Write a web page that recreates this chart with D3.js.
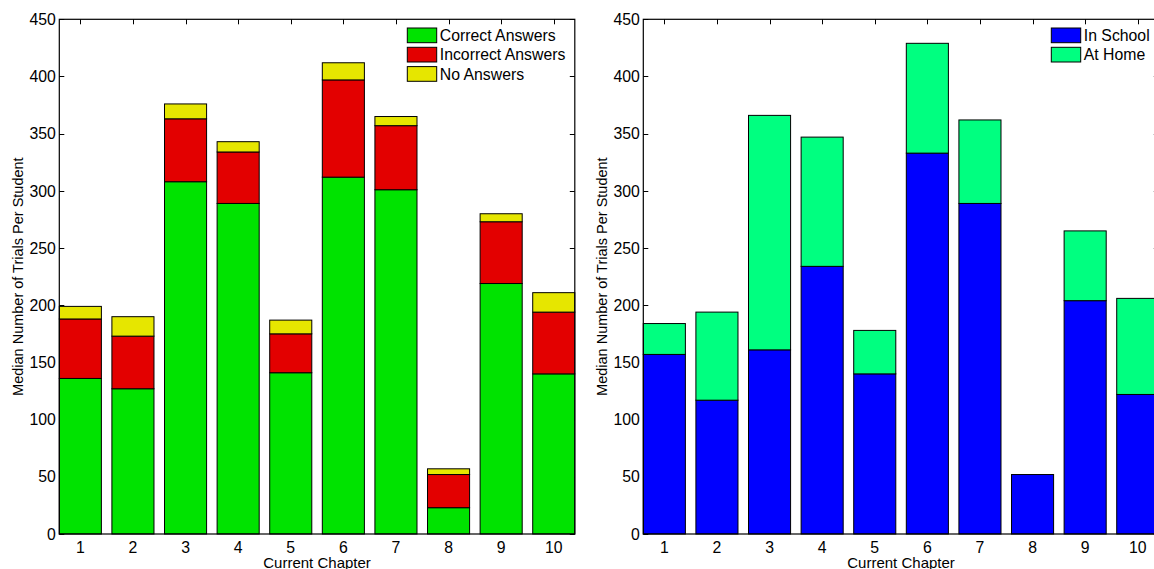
<!DOCTYPE html>
<html>
<head>
<meta charset="utf-8">
<script src="https://cdn.jsdelivr.net/npm/d3@7"></script>
<style>
  html, body { margin: 0; padding: 0; background: #fff; overflow: hidden; }
  svg { display: block; font-family: "Liberation Sans", Arial, Helvetica, sans-serif; }
</style>
</head>
<body>
<svg id="chart" width="1154" height="569"></svg>
<script>
// ---- Data ----
const chapters = ["1", "2", "3", "4", "5", "6", "7", "8", "9", "10"];
const yTickValues = [0, 50, 100, 150, 200, 250, 300, 350, 400, 450];

// Left panel: answer types
const answerSeries = ["Correct Answers", "Incorrect Answers", "No Answers"];
const correctAnswers   = [136, 127, 308, 289, 141, 312, 301, 23, 219, 140];
const incorrectAnswers = [52, 46, 55, 45, 34, 85, 56, 29, 54, 54];
const noAnswers        = [11, 17, 13, 9, 12, 15, 8, 5, 7, 17];
const answerColors = ["#00e300", "#e30000", "#e6e600"];

// Right panel: location
const locationSeries = ["In School", "At Home"];
const inSchool = [157, 117, 161, 234, 140, 333, 289, 52, 204, 122];
const atHome   = [27, 77, 205, 113, 38, 96, 73, 0, 61, 84];
const locationColors = ["#0000ff", "#00ff80"];

const xLabel = "Current Chapter";
const yLabel = "Median Number of Trials Per Student";

// ---- Drawing ----
const svg = d3.select("#chart");
const plotTop = 19.3, plotBottom = 534, plotWidth = 515.5;
const fontSize = 15.8;

function drawPanel(left, seriesNames, seriesArrays, colors, legendX) {
  const g = svg.append("g");
  const x = d3.scaleLinear().domain([0.6, 10.4]).range([left, left + plotWidth]);
  const y = d3.scaleLinear().domain([0, 450]).range([plotBottom, plotTop]);
  const tickLen = 5;

  // inward ticks (drawn below bars)
  const ticks = g.append("g").attr("stroke", "#000").attr("stroke-width", 1);
  yTickValues.forEach(v => {
    const yy = Math.round(y(v)) + 0.5;
    ticks.append("line").attr("x1", x(0.6)).attr("x2", x(0.6) + tickLen).attr("y1", yy).attr("y2", yy);
    ticks.append("line").attr("x1", x(10.4)).attr("x2", x(10.4) - tickLen).attr("y1", yy).attr("y2", yy);
  });
  chapters.forEach((c, i) => {
    const xx = Math.round(x(i + 1)) + 0.5;
    ticks.append("line").attr("x1", xx).attr("x2", xx).attr("y1", y(450)).attr("y2", y(450) + tickLen);
    ticks.append("line").attr("x1", xx).attr("x2", xx).attr("y1", y(0)).attr("y2", y(0) - tickLen);
  });

  // stacked bars
  const rows = chapters.map((c, i) => {
    const r = { chapter: i + 1 };
    seriesNames.forEach((s, k) => r[s] = seriesArrays[k][i]);
    return r;
  });
  const stacked = d3.stack().keys(seriesNames)(rows);
  const barHalf = 0.4;
  stacked.forEach((layer, k) => {
    g.append("g").selectAll("rect")
      .data(layer.filter(d => d[1] - d[0] > 0))
      .join("rect")
      .attr("x", d => x(d.data.chapter - barHalf))
      .attr("width", d => x(d.data.chapter + barHalf) - x(d.data.chapter - barHalf))
      .attr("y", d => y(d[1]))
      .attr("height", d => y(d[0]) - y(d[1]))
      .attr("fill", colors[k])
      .attr("stroke", "#000")
      .attr("stroke-width", 1);
  });

  // axes box
  g.append("rect")
    .attr("x", x(0.6)).attr("y", y(450))
    .attr("width", x(10.4) - x(0.6)).attr("height", y(0) - y(450))
    .attr("fill", "none").attr("stroke", "#000").attr("stroke-width", 1.2);

  // y tick labels
  g.append("g").selectAll("text").data(yTickValues).join("text")
    .attr("x", x(0.6) - 3.5)
    .attr("y", d => y(d))
    .attr("dy", "0.36em")
    .attr("text-anchor", "end")
    .attr("font-size", fontSize)
    .attr("fill", "#000")
    .text(d => d);

  // x tick labels
  g.append("g").selectAll("text").data(chapters).join("text")
    .attr("x", (d, i) => x(i + 1))
    .attr("y", plotBottom + 18.5)
    .attr("text-anchor", "middle")
    .attr("font-size", fontSize)
    .attr("fill", "#000")
    .text(d => d);

  // axis titles
  g.append("text")
    .attr("x", (x(0.6) + x(10.4)) / 2)
    .attr("y", 568)
    .attr("text-anchor", "middle")
    .attr("font-size", 15)
    .attr("fill", "#000")
    .text(xLabel);

  g.append("text")
    .attr("transform", `translate(${left - 36.5},${(plotTop + plotBottom) / 2}) rotate(-90)`)
    .attr("text-anchor", "middle")
    .attr("font-size", 14.5)
    .attr("fill", "#000")
    .text(yLabel);

  // legend
  const leg = g.append("g");
  seriesNames.forEach((s, k) => {
    const top = 28 + k * 19.3;
    leg.append("rect")
      .attr("x", legendX).attr("y", top)
      .attr("width", 29.4).attr("height", 14.7)
      .attr("fill", colors[k]).attr("stroke", "#000").attr("stroke-width", 1);
    leg.append("text")
      .attr("x", legendX + 32.5).attr("y", top + 7.35)
      .attr("dy", "0.36em")
      .attr("font-size", fontSize)
      .attr("fill", "#000")
      .text(s);
  });
}

drawPanel(59.3, answerSeries, [correctAnswers, incorrectAnswers, noAnswers], answerColors, 407.3);
drawPanel(643.3, locationSeries, [inSchool, atHome], locationColors, 1051.3);
</script>
</body>
</html>
